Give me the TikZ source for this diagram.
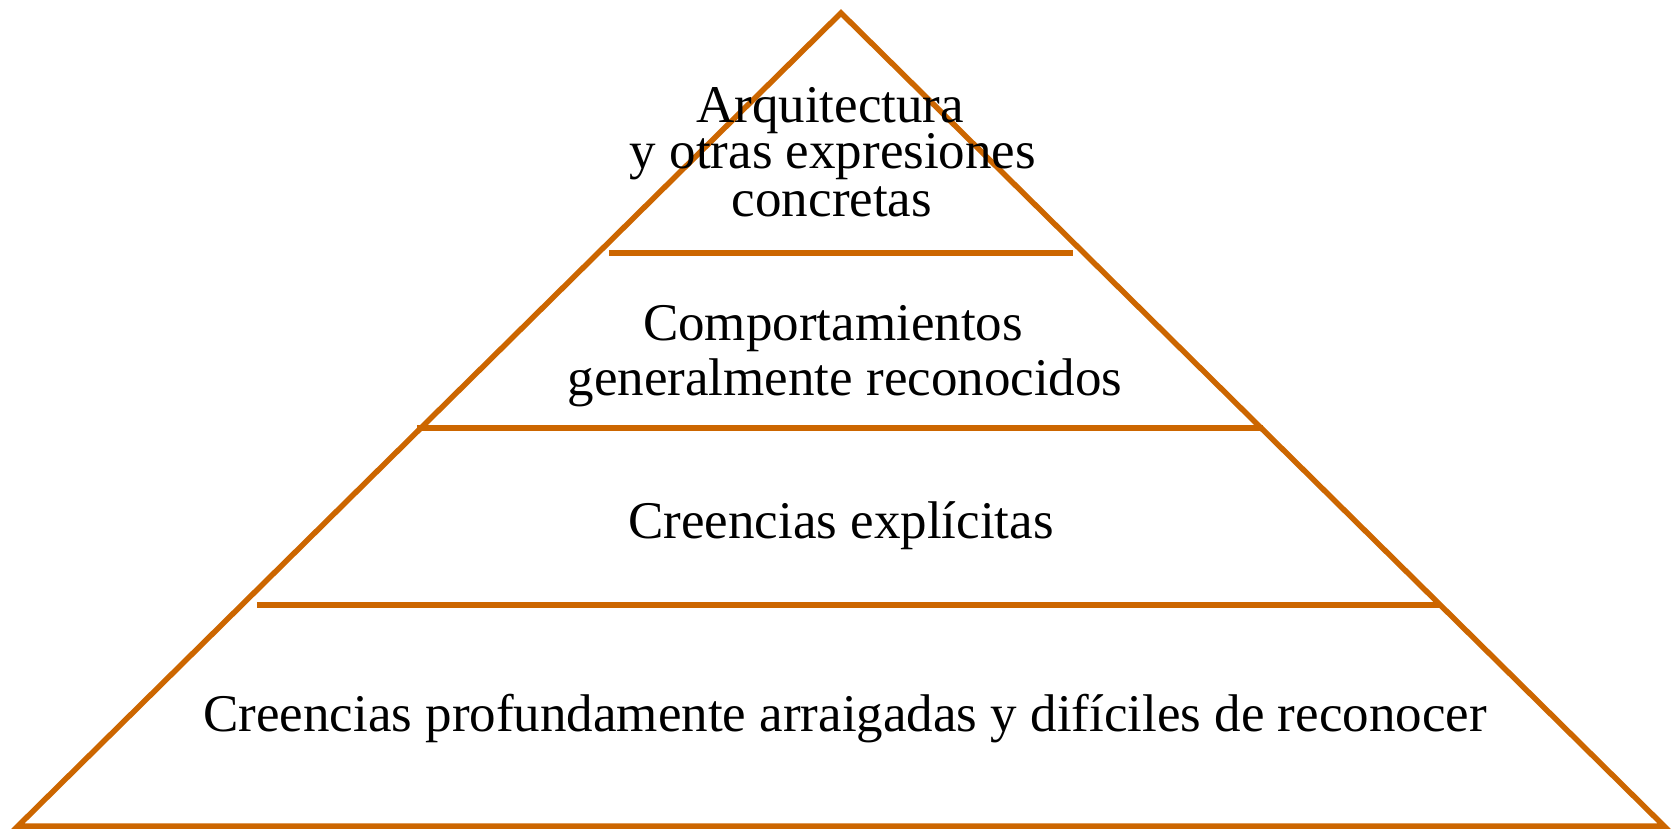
\documentclass[tikz,border=0pt]{standalone}
\usepackage{fontspec}
\setmainfont{Liberation Serif}
\definecolor{pyr}{RGB}{204,102,0}
\begin{document}
\begin{tikzpicture}[x=1pt,y=-1pt,
  edge/.style={draw=pyr,line width=5.5pt},
  lbl/.style={anchor=base,inner sep=0pt,font=\fontsize{53}{53}\selectfont}]
\useasboundingbox (0,0) rectangle (1678,830);
\coordinate (top) at (841,13);
\coordinate (bl) at (18,826);
\coordinate (br) at (1664,826);
\draw[edge,line join=miter] (top) -- (br) -- (bl) -- cycle;
\coordinate (l1a) at (609,253); \coordinate (l1b) at (1073,253);
\coordinate (l2a) at (417,428); \coordinate (l2b) at (1263,428);
\coordinate (l3a) at (257,605); \coordinate (l3b) at (1439,605);
\draw[edge] (l1a) -- (l1b);
\draw[edge] (l2a) -- (l2b);
\draw[edge] (l3a) -- (l3b);
\node[lbl] (t1a) at (830,122) {Arquitectura};
\node[lbl] (t1b) at (833,168) {y otras expresiones};
\node[lbl] (t1c) at (832,216) {concretas};
\node[lbl] (t2a) at (833,340) {Comportamientos};
\node[lbl] (t2b) at (845,395) {generalmente reconocidos};
\node[lbl] (t3) at (841,538) {Creencias explícitas};
\node[lbl] (t4) at (845,731) {Creencias profundamente arraigadas y difíciles de reconocer};
\end{tikzpicture}
\end{document}
